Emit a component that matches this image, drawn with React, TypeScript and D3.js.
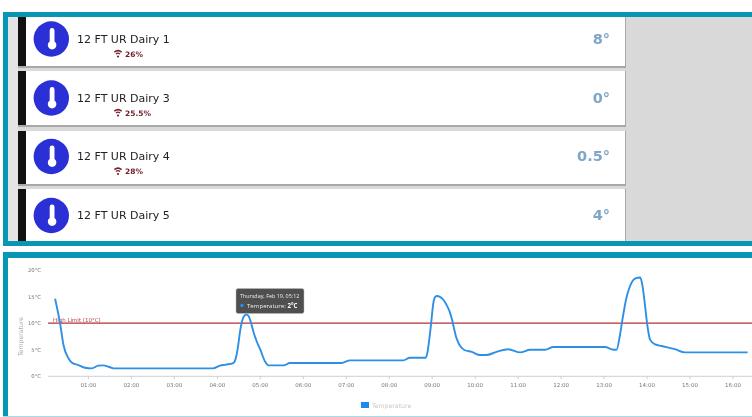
import React from "react";
import * as d3 from "d3";

const deviceNames = ["12 FT UR Dairy 1", "12 FT UR Dairy 3", "12 FT UR Dairy 4", "12 FT UR Dairy 5"];
const deviceSignals = ["26%", "25.5%", "28%", ""];
const deviceTemps = ["8°", "0°", "0.5°", "4°"];

const hours = [0.225,0.34,0.42,0.535,0.61,0.77,0.92,1.08,1.23,1.35,1.47,1.58,3.9,4.06,4.2,4.37,4.43,4.48,4.53,4.58,4.63,4.68,4.73,4.78,4.84,4.92,5.0,5.11,5.19,5.54,5.69,6.89,7.09,8.33,8.48,8.85,8.89,8.93,8.98,9.02,9.05,9.1,9.19,9.26,9.33,9.4,9.45,9.5,9.55,9.6,9.66,9.76,9.92,10.11,10.26,10.5,10.77,11.05,11.28,11.63,11.82,13.02,13.22,13.29,13.37,13.42,13.51,13.6,13.72,13.84,13.89,13.95,14.01,14.07,14.19,14.34,14.65,14.88,16.34];
const temps = [14.6,10,5.9,3.4,2.6,2.1,1.6,1.5,2,2.05,1.8,1.5,1.5,2,2.2,2.5,3.4,5.5,8.5,10.5,11.4,11.6,11.3,10.2,8.4,6.5,5,2.8,2.05,2.05,2.5,2.5,3,3,3.5,3.5,4.5,6.8,10.3,13.4,14.6,15.1,14.9,14.4,13.5,12.3,11,9.3,7.6,6.5,5.6,4.9,4.6,4,4,4.6,5.1,4.5,5,5,5.5,5.5,5,5,7.8,10.3,14.4,16.9,18.4,18.6,17.2,13.5,9.4,6.9,6,5.7,5.1,4.5,4.5];
const xTickHours = [1,2,3,4,5,6,7,8,9,10,11,12,13,14,15,16];
const yTicks = [0,5,10,15,20];
const highLimit = 10;

const TEAL = "#0797b4";

function Thermo({ cx, cy }: { cx: number; cy: number }) {
  return (
    <g transform={`translate(${cx},${cy})`}>
      <circle r={17.7} fill="#2b2fd6" />
      <path d="M-1.6,-8.5 a2.4,2.4 0 0 1 4.8,0 V2.6 a4.3,4.3 0 1 1 -4.8,0 Z" fill="#fff" />
    </g>
  );
}

function Wifi({ cx, cy }: { cx: number; cy: number }) {
  const arc = d3.arc();
  const bands = [[2.6, 3.8], [4.9, 6.4]].map(([i, o]) =>
    arc({ innerRadius: i, outerRadius: o, startAngle: -0.7, endAngle: 0.7 } as any) as string
  );
  return (
    <g transform={`translate(${cx},${cy})`} fill="#7a1f2b">
      {bands.map((d, i) => <path key={i} d={d} />)}
      <circle r={1.1} />
    </g>
  );
}

export default function App() {
  const x = d3.scaleLinear().domain([1, 16]).range([88.4, 733]);
  const y = d3.scaleLinear().domain([0, 20]).range([376.3, 270]);
  const pts = hours.map((h, i) => [h, temps[i]] as [number, number]);
  const line = d3.line<[number, number]>().x(d => x(d[0])).y(d => y(d[1])).curve(d3.curveMonotoneX);
  const tick = (h: number) => `${String(h).padStart(2, "0")}:00`;
  const cards = [[17, 66], [71, 125], [131, 184], [189, 241]];
  const circles = [39, 98, 156.5, 215.5];
  const chartFont = "'DejaVu Sans', sans-serif";
  return (
    <svg width={752} height={417} viewBox="0 0 752 417" style={{ position: "fixed", left: 0, top: 0, display: "block" }} fontFamily={chartFont}>
      <defs>
        <filter id="soft" x="-5%" y="-5%" width="110%" height="110%"><feGaussianBlur stdDeviation="0.4" /></filter>
        <filter id="softer" x="-5%" y="-5%" width="110%" height="110%"><feGaussianBlur stdDeviation="0.25" /></filter>
      </defs>
      <rect width={752} height={417} fill="#fff" />
      <rect x={3} y={12} width={749} height={234} fill={TEAL} />
      <rect x={8} y={17} width={744} height={224} fill="#d9d9d9" />
      <rect x={8} y={17} width={10} height={224} fill="#e4e4e4" />
      {cards.map(([a, b], i) => (
        <g key={i}>
          <rect x={18} y={a} width={608} height={b - a + (i < 3 ? 2 : 0)} fill="#a8a8a8" />
          <rect x={18} y={a} width={607} height={b - a} fill="#fff" />
          <rect x={18} y={a} width={8} height={b - a} fill="#111" />
          <Thermo cx={51.3} cy={circles[i]} />
          <g filter="url(#softer)">
            <text x={77} y={circles[i] + 3.5} fontSize={11} fill="#222">{deviceNames[i]}</text>
            {deviceSignals[i] && <Wifi cx={118} cy={circles[i] + 17.5} />}
            {deviceSignals[i] && <text x={125} y={circles[i] + 17.5} fontSize={7.5} fontWeight={700} fill="#6e1f2a">{deviceSignals[i]}</text>}
            <text x={610} y={circles[i] + 4.5} textAnchor="end" fontSize={14.5} fontWeight={700} fill="#7fa6c6">{deviceTemps[i]}</text>
          </g>
        </g>
      ))}
      <rect x={3} y={252} width={749} height={165} fill={TEAL} />
      <rect x={8} y={258} width={744} height={158} fill="#fff" />
      <rect x={3} y={416} width={749} height={1} fill="#a9dbe6" />

      <g filter="url(#soft)">
        {yTicks.map(t => (
          <text key={t} x={41} y={y(t) + 2} textAnchor="end" fontSize={5.3} fill="#777">{t}°C</text>
        ))}
        <text transform={`translate(23,${y(7.5)}) rotate(-90)`} textAnchor="middle" fontSize={6.2} fill="#aaa">Temperature</text>
        <line x1={48} x2={752} y1={y(0)} y2={y(0)} stroke="#c4ccd4" strokeWidth={0.9} />
        {xTickHours.map(h => (
          <g key={h}>
            <line x1={x(h)} x2={x(h)} y1={y(0)} y2={y(0) + 3} stroke="#c4ccd4" strokeWidth={0.9} />
            <text x={x(h)} y={386.8} textAnchor="middle" fontSize={5.5} fill="#777">{tick(h)}</text>
          </g>
        ))}
        <text x={53} y={321.5} fontSize={5.5} fill="#b5404a">High Limit (10°C)</text>
        <line x1={48} x2={752} y1={y(highLimit)} y2={y(highLimit)} stroke="#b03035" strokeWidth={1.4} />
        <path d={line(pts) ?? ""} fill="none" stroke="#2f8fe6" strokeWidth={1.9} strokeLinejoin="round" />
        <rect x={361} y={402} width={8} height={6} fill="#1e88f0" />
        <text x={372} y={408} fontSize={6.2} fill="#c8c8c8">Temperature</text>
        <rect x={236} y={288.5} width={68} height={25} rx={2} fill="#4f4f4f" stroke="#bbb" strokeWidth={0.5} />
        <text x={240} y={298} fontSize={5.4} fontFamily="'Open Sans', sans-serif" fill="#eee">Thursday, Feb 19, 05:12</text>
        <circle cx={242} cy={305.5} r={1.7} fill="#2f8fe6" />
        <text x={247} y={307.5} fontSize={6.1} fontFamily="'Open Sans', sans-serif" fill="#eee">Temperature: <tspan fontWeight={700} fill="#fff">2°C</tspan></text>
      </g>
    </svg>
  );
}
